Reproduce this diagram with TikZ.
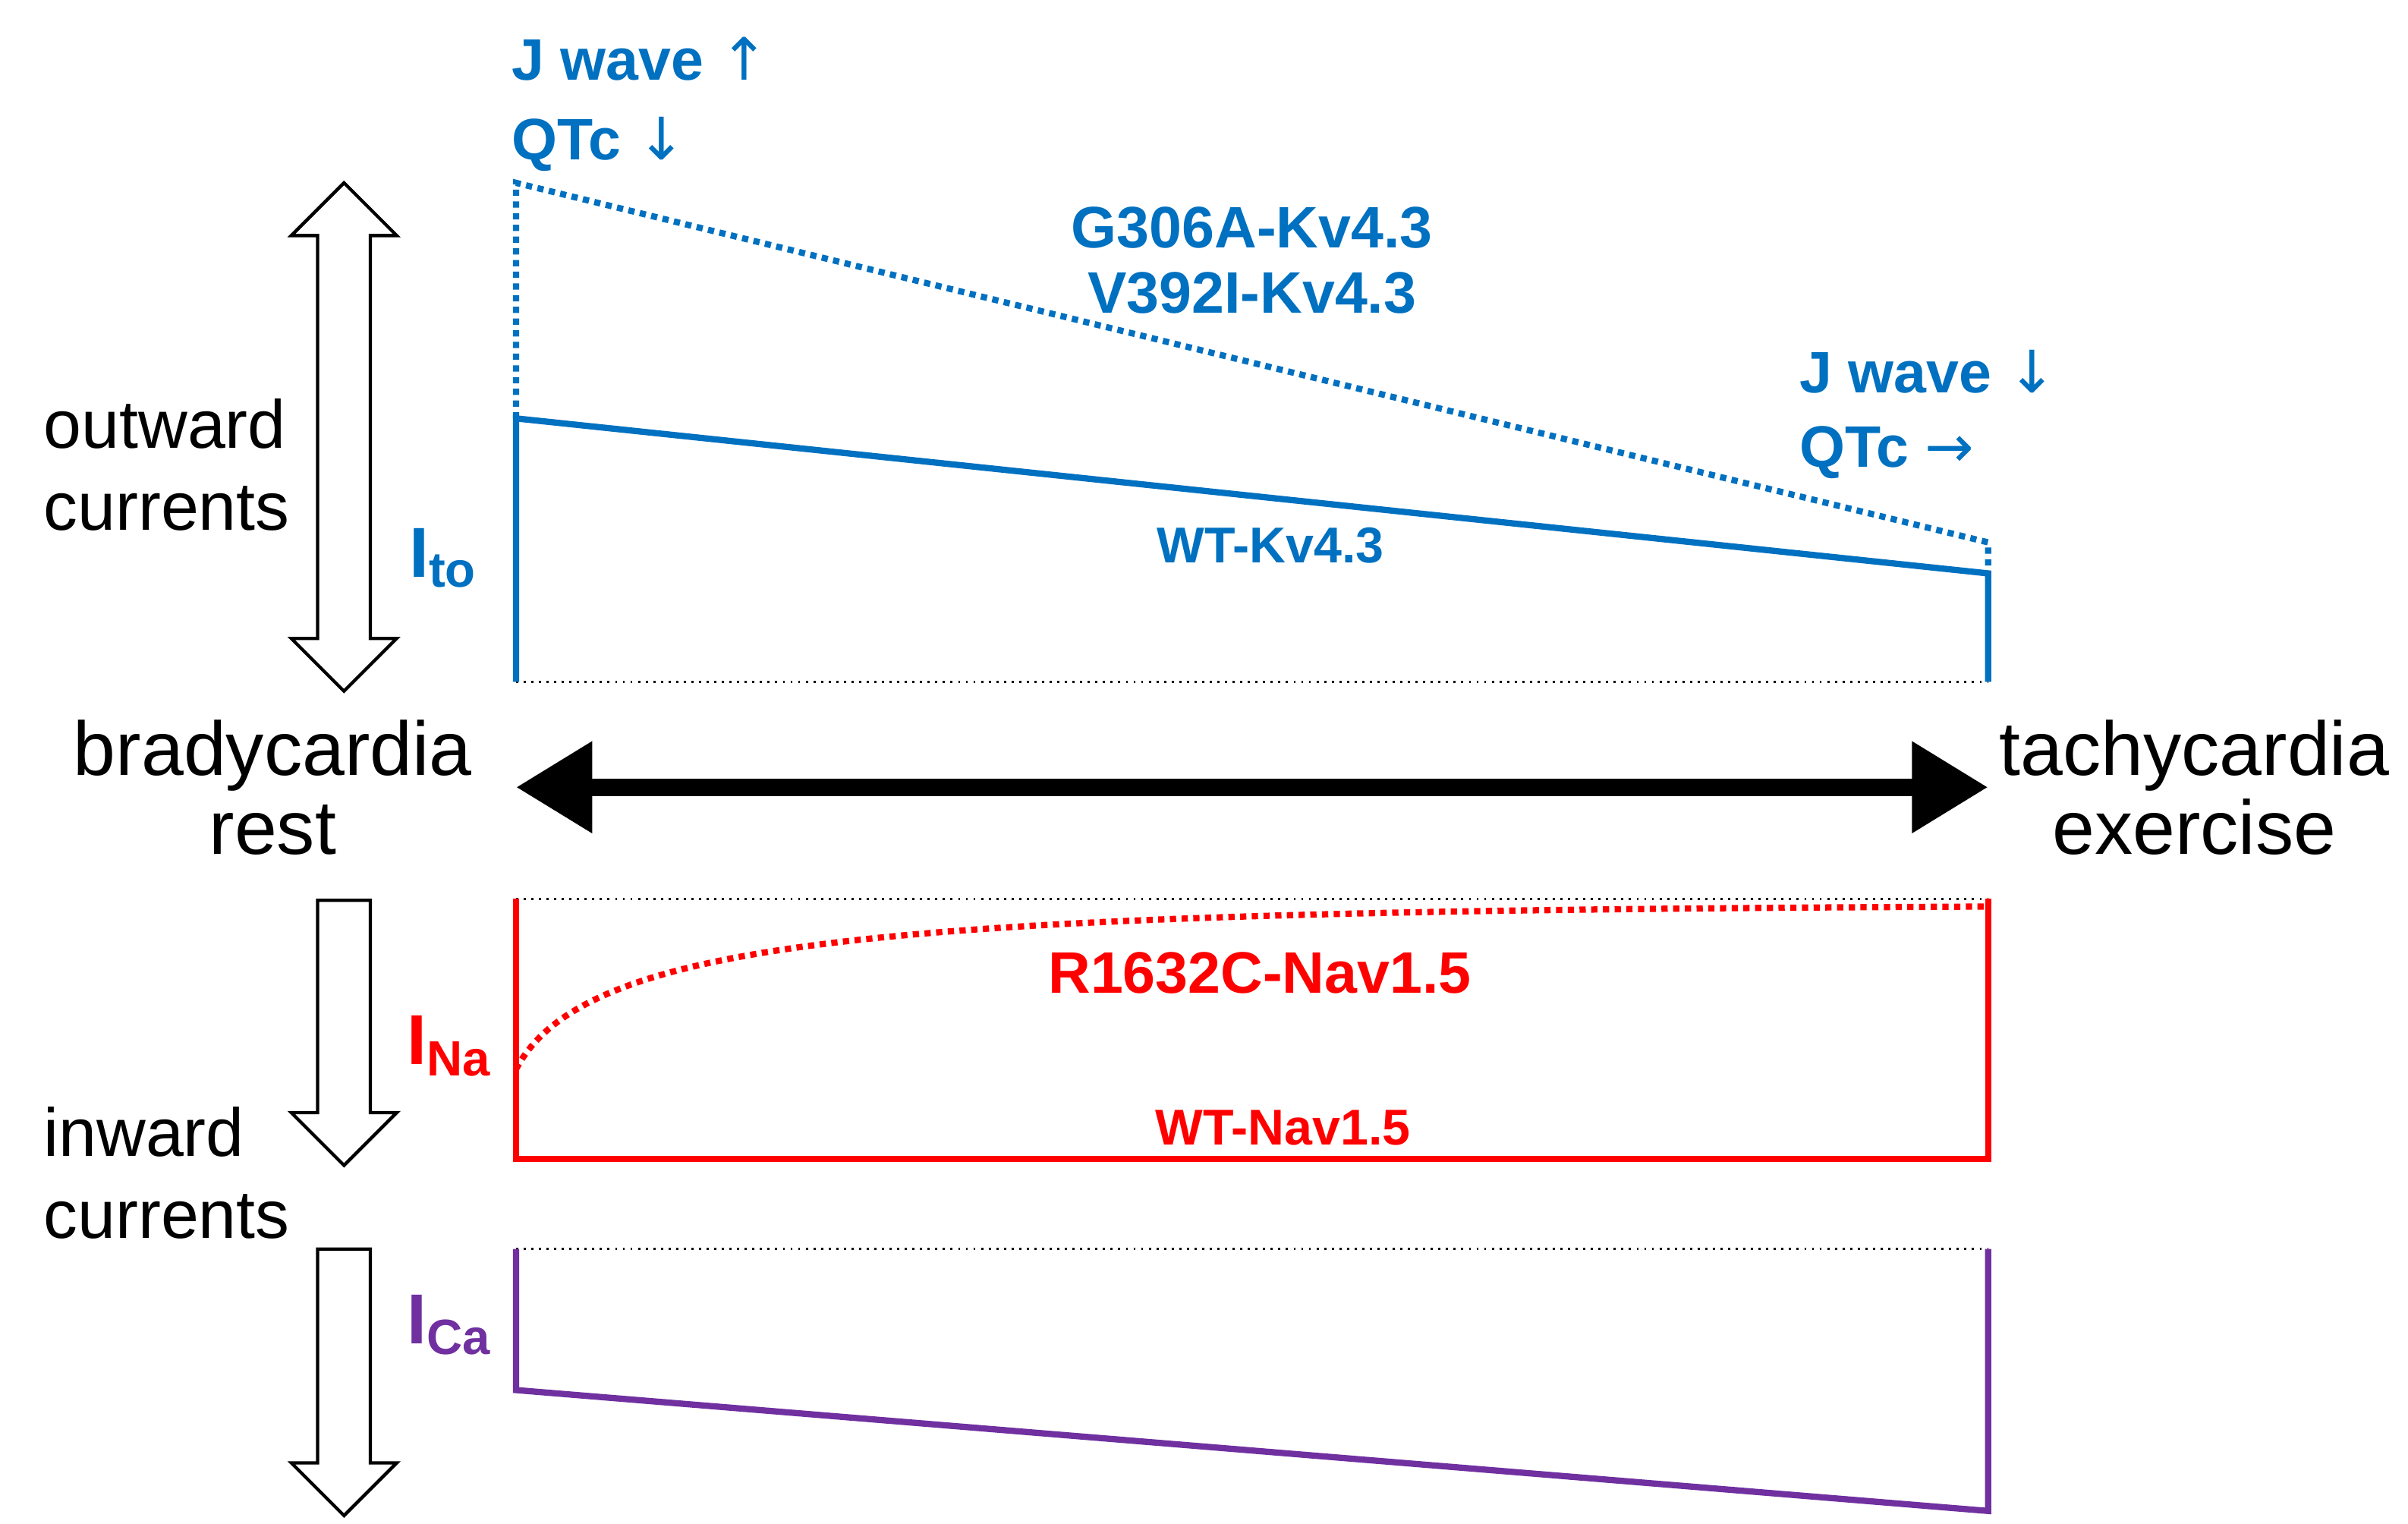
\documentclass[tikz,border=0pt]{standalone}
\usepackage{fontspec}
\setmainfont{Liberation Sans}
\newfontfamily\arr{DejaVu Sans}
\usetikzlibrary{arrows.meta}
\definecolor{kblue}{RGB}{0,112,192}
\definecolor{kpurple}{RGB}{112,48,160}
\begin{document}
\begin{tikzpicture}[x=0.02cm,y=-0.02cm,
  big/.style={font=\fontsize{28}{29}\selectfont,align=center},
  side/.style={font=\fontsize{25}{30}\selectfont,align=left},
  lab/.style={font=\bfseries\fontsize{21.5}{24}\selectfont},
  small/.style={font=\bfseries\fontsize{18.5}{20}\selectfont},
  cur/.style={font=\bfseries\fontsize{26}{28}\selectfont},
  base/.style={black,dotted,line width=0.8pt},
  hollow/.style={draw=black,line width=1.2pt,fill=white}]
\useasboundingbox (0,0) rectangle (1554,983);
% hollow arrows
\draw[hollow] (222,118)--(256,152)--(239,152)--(239,412)--(256,412)--(222,446)--(188,412)--(205,412)--(205,152)--(188,152)--cycle;
\draw[hollow] (205,581)--(239,581)--(239,718)--(256,718)--(222,752)--(188,718)--(205,718)--cycle;
\draw[hollow] (205,806)--(239,806)--(239,944)--(256,944)--(222,978)--(188,944)--(205,944)--cycle;
% baselines
\draw[base] (333,440)--(1283,440);
\draw[base] (333,580)--(1283,580);
\draw[base] (333,806)--(1283,806);
% blue
\draw[kblue,line width=2.3pt,dotted] (333,270)--(333,118)--(1283,350)--(1283,370);
\draw[kblue,line width=2.3pt] (333,440)--(333,270)--(1283,370)--(1283,440);
% red
\draw[red,line width=2.3pt] (333,580)--(333,748)--(1283,748)--(1283,580);
\draw[red,line width=2.3pt,dotted] (333,690) .. controls (380,600) and (600,588) .. (1283,585);
% purple
\draw[kpurple,line width=2.3pt] (333,806)--(333,897)--(1283,975)--(1283,806);
% black double arrow
\draw[line width=6.5pt,{Triangle[length=28pt,width=32pt]}-{Triangle[length=28pt,width=32pt]}] (333,508)--(1283,508);
% texts
\node[side,anchor=west] (out) at (22,300) {outward\\currents};
\node[side,anchor=west] (inw) at (22,757) {inward\\currents};
\node[big] (brady) at (176,508) {bradycardia\\rest};
\node[big] (tachy) at (1416,508) {tachycardia\\exercise};
\node[cur,kblue] (ito) at (286,360) {I\textsubscript{to}};
\node[cur,red] (ina) at (290,675) {I\textsubscript{Na}};
\node[cur,kpurple] (ica) at (290,855) {I\textsubscript{Ca}};
\node[lab,kblue,anchor=west] (j1) at (324,38) {J wave {\arr\mdseries ↑}};
\node[lab,kblue,anchor=west] (q1) at (324,93) {QTc {\arr\mdseries ↓}};
\node[lab,kblue,align=center] (g) at (808,168) {G306A-Kv4.3\\V392I-Kv4.3};
\node[lab,kblue,anchor=west] (j2) at (1155,240) {J wave {\arr\mdseries ↓}};
\node[lab,kblue,anchor=west] (q2) at (1155,292) {QTc {\arr\mdseries →}};
\node[small,kblue] (wtk) at (820,352) {WT-Kv4.3};
\node[lab,red] (r) at (813,628) {R1632C-Nav1.5};
\node[small,red] (wtn) at (828,728) {WT-Nav1.5};
\end{tikzpicture}
\end{document}
